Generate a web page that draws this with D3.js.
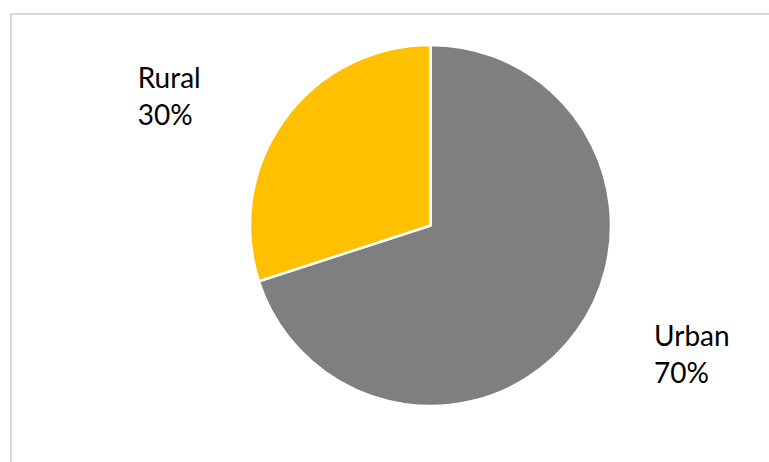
<!DOCTYPE html>
<html>
<head>
<meta charset="utf-8">
<script src="https://cdn.jsdelivr.net/npm/d3@7"></script>
<style>
  body { margin: 0; background: #fff; }
</style>
</head>
<body>
<div id="chart"></div>
<script>
var categories = ["Urban", "Rural"];
var shares = [70, 30];
var colors = ["#7f7f7f", "#ffc000"];

var W = 769, H = 462;
var cx = 430.5, cy = 225.5, radius = 180.5;

var svg = d3.select("#chart")
  .append("svg")
  .attr("width", W)
  .attr("height", H);

// chart area border (only top/left visible in the frame)
svg.append("rect")
  .attr("x", 11).attr("y", 14)
  .attr("width", W + 20).attr("height", H + 20)
  .attr("fill", "none")
  .attr("stroke", "#d9d9d9")
  .attr("stroke-width", 2);

var data = categories.map(function(c, i) { return {name: c, value: shares[i], color: colors[i]}; });

var pie = d3.pie().sort(null).value(function(d) { return d.value; });
var arc = d3.arc().innerRadius(0).outerRadius(radius);

var g = svg.append("g").attr("transform", "translate(" + cx + "," + cy + ")");

g.selectAll("path.slice")
  .data(pie(data))
  .enter()
  .append("path")
  .attr("class", "slice")
  .attr("d", arc)
  .attr("fill", function(d) { return d.data.color; })
  .attr("stroke", "#fff")
  .attr("stroke-width", 2.5)
  .attr("stroke-linejoin", "round");

// labels placed on an ellipse around the pie, left-aligned blocks
var rx = 323, ry = 219, lineH = 37;
var labels = g.selectAll("g.lbl")
  .data(pie(data))
  .enter()
  .append("g")
  .attr("class", "lbl");

labels.each(function(d) {
  var a = (d.startAngle + d.endAngle) / 2;
  var mx = Math.sin(a) * rx, my = -Math.cos(a) * ry;
  var grp = d3.select(this);
  var t = grp.append("text")
    .attr("font-family", "Lato, sans-serif")
    .attr("font-size", 28)
    .attr("fill", "#000");
  t.append("tspan").attr("x", 0).attr("dy", 0).text(d.data.name);
  t.append("tspan").attr("x", 0).attr("dy", lineH).text(d.data.value + "%");
  // center on cap-top..baseline of the two lines
  var w = t.node().getBBox().width, cap = 28 * 0.72;
  var top = -cap, bottom = lineH;
  grp.attr("transform", "translate(" + (mx - w / 2) + "," + (my - (top + bottom) / 2) + ")");
});
</script>
</body>
</html>
